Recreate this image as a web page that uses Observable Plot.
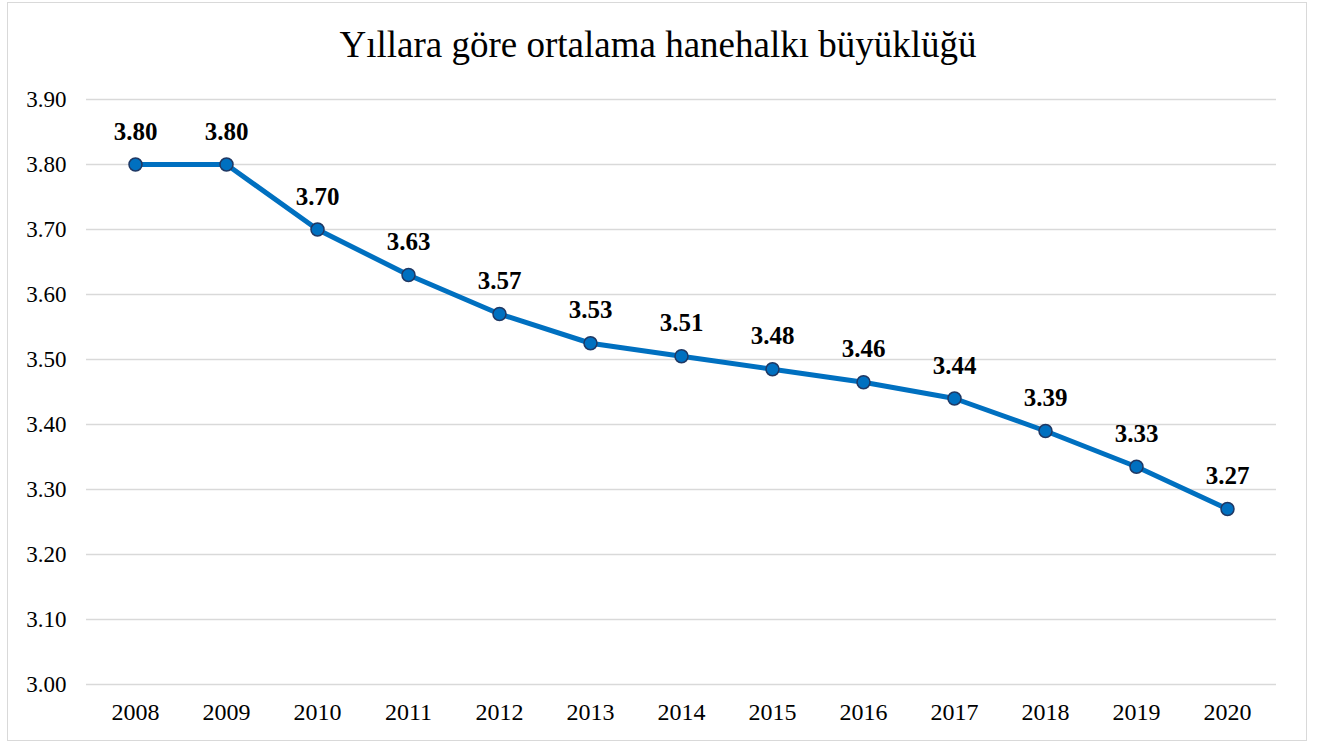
<!DOCTYPE html>
<html>
<head>
<meta charset="utf-8">
<script src="https://cdn.jsdelivr.net/npm/d3@7"></script>
<script src="https://cdn.jsdelivr.net/npm/@observablehq/plot@0.6"></script>
<style>
  html, body { margin: 0; padding: 0; background: #fff; }
  #wrap { position: relative; width: 1323px; height: 742px; overflow: hidden; }
  #frame { position: absolute; left: 7px; top: 2px; width: 1300px; height: 739px; border: 1.5px solid #d9d9d9; box-sizing: border-box; }
  #title { position: absolute; left: 0; width: 1316px; top: 26px; line-height: 1; text-align: center; font-family: "Liberation Serif", "Times New Roman", serif; font-size: 37px; color: #000; }
  #chart { position: absolute; left: 0; top: 0; }
</style>
</head>
<body>
<div id="wrap">
  <div id="frame"></div>
  <div id="chart"></div>
  <div id="title">Yıllara göre ortalama hanehalkı büyüklüğü</div>
</div>
<script>
const years = ["2008","2009","2010","2011","2012","2013","2014","2015","2016","2017","2018","2019","2020"];
const values = [3.80, 3.80, 3.70, 3.63, 3.57, 3.525, 3.505, 3.485, 3.465, 3.44, 3.39, 3.335, 3.27];
const valueLabels = ["3.80","3.80","3.70","3.63","3.57","3.53","3.51","3.48","3.46","3.44","3.39","3.33","3.27"];
const yTicks = [3.00, 3.10, 3.20, 3.30, 3.40, 3.50, 3.60, 3.70, 3.80, 3.90];

const data = years.map((y, i) => ({year: y, value: values[i], label: valueLabels[i]}));

const serif = '"Liberation Serif", "Times New Roman", serif';

const chart = Plot.plot({
  width: 1323,
  height: 742,
  marginLeft: 86,
  marginRight: 47,
  marginTop: 99,
  marginBottom: 58,
  style: { fontFamily: serif, fontSize: "23px", color: "#000", background: "transparent" },
  x: { type: "point", domain: years, padding: 0.5, label: null },
  y: { domain: [3.0, 3.9], label: null },
  marks: [
    Plot.ruleY(yTicks, { stroke: "#d9d9d9", strokeWidth: 1.5 }),
    Plot.axisY({ ticks: yTicks, tickFormat: d3.format(".2f"), tickSize: 0, tickPadding: 20, label: null, fontSize: 23 }),
    Plot.axisX({ tickSize: 0, tickPadding: 18, label: null, fontSize: 24 }),
    Plot.line(data, { x: "year", y: "value", stroke: "#0070C0", strokeWidth: 5 }),
    Plot.dot(data, { x: "year", y: "value", r: 6.5, fill: "#0070C0", stroke: "#1f3864", strokeWidth: 1.5 }),
    Plot.text(data, { x: "year", y: "value", text: "label", dy: -33, fontWeight: "bold", fontSize: 25, fill: "#000" })
  ]
});
document.getElementById("chart").appendChild(chart);
</script>
</body>
</html>
